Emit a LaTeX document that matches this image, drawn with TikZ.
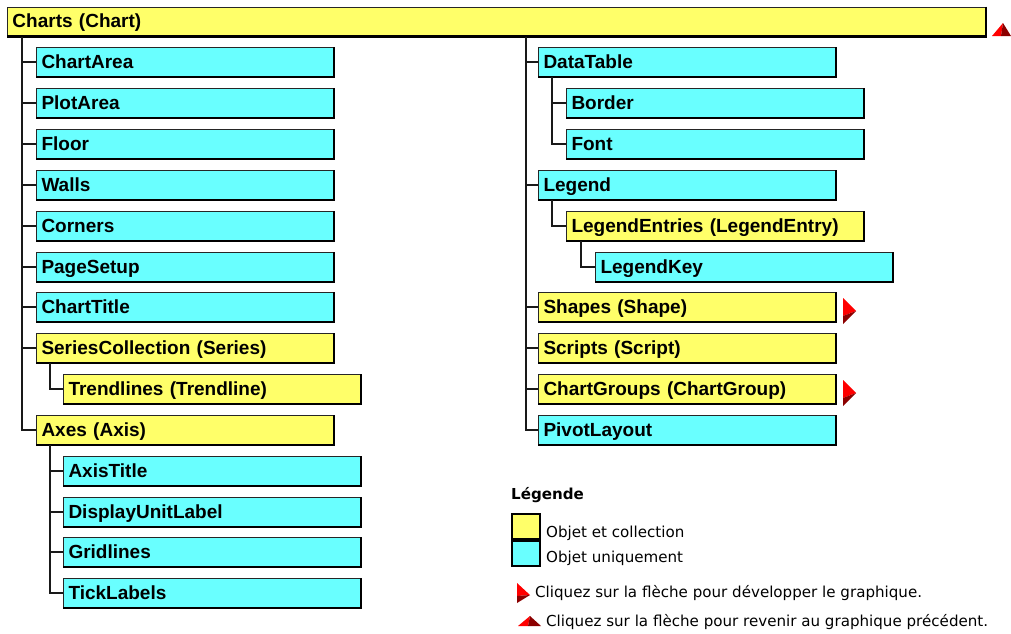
\documentclass[tikz,border=0pt]{standalone}
\usepackage{fontspec}
\setmainfont{Liberation Sans}
\newfontfamily\legfont{DejaVu Sans}
\usetikzlibrary{calc}
\definecolor{objY}{RGB}{255,255,105}
\definecolor{objC}{RGB}{105,255,255}
\definecolor{arrR}{RGB}{255,0,0}
\definecolor{arrD}{RGB}{140,0,0}
\tikzset{
  box/.style={draw=black!85, line width=1pt, minimum height=29pt, inner ysep=0pt, inner xsep=5pt,
    text height=14pt, text depth=2pt, anchor=west, align=left,
    font=\fontsize{19}{19}\selectfont\bfseries, text width=287pt},
  ybox/.style={box, fill=objY},
  cbox/.style={box, fill=objC},
  shade/.style={line width=2.6pt, black},
  conn/.style={line width=1.4pt, black!90},
  legtext/.style={anchor=west, inner sep=0pt, font=\legfont\fontsize{15.1}{16}\selectfont},
}
\begin{document}
\begin{tikzpicture}[x=1pt,y=-1pt]
\useasboundingbox (0,0) rectangle (1011,633);
% root
\node[ybox, text width=968pt] (root) at (7,21.5) {Charts (Chart)};
% left column
\node[cbox] (ca) at (36,62) {ChartArea};
\node[cbox] (pa) at (36,103) {PlotArea};
\node[cbox] (fl) at (36,144) {Floor};
\node[cbox] (wa) at (36,185) {Walls};
\node[cbox] (co) at (36,226) {Corners};
\node[cbox] (ps) at (36,267) {PageSetup};
\node[cbox] (ct) at (36,307) {ChartTitle};
\node[ybox] (sc) at (36,348) {SeriesCollection (Series)};
\node[ybox] (tl) at (63,389) {Trendlines (Trendline)};
\node[ybox] (ax) at (36,430) {Axes (Axis)};
\node[cbox] (at) at (63,471) {AxisTitle};
\node[cbox] (du) at (63,512) {DisplayUnitLabel};
\node[cbox] (gl) at (63,552) {Gridlines};
\node[cbox] (tk) at (63,593) {TickLabels};
% right column
\node[cbox] (dt) at (538,62) {DataTable};
\node[cbox] (bo) at (566,103) {Border};
\node[cbox] (fo) at (566,144) {Font};
\node[cbox] (lg) at (538,185) {Legend};
\node[ybox] (le) at (566,226) {LegendEntries (LegendEntry)};
\node[cbox] (lk) at (595,267) {LegendKey};
\node[ybox] (sh) at (538,307) {Shapes (Shape)};
\node[ybox] (sr) at (538,348) {Scripts (Script)};
\node[ybox] (cg) at (538,389) {ChartGroups (ChartGroup)};
\node[cbox] (pl) at (538,430) {PivotLayout};
% shadows
\foreach \n in {root,ca,pa,fl,wa,co,ps,ct,sc,tl,ax,at,du,gl,tk,dt,bo,fo,lg,le,lk,sh,sr,cg,pl}
  \draw[shade] (\n.north east) -- (\n.south east) -- (\n.south west);
% connectors
\foreach \n in {ca,pa,fl,wa,co,ps,ct,sc,ax}
  \draw[conn] ([xshift=15pt]root.south west) |- (\n.west);
\foreach \n in {dt,lg,sh,sr,cg,pl}
  \draw[conn] ([xshift=519pt]root.south west) |- (\n.west);
\draw[conn] ([xshift=14pt]sc.south west) |- (tl.west);
\foreach \n in {at,du,gl,tk}
  \draw[conn] ([xshift=14pt]ax.south west) |- (\n.west);
\foreach \n in {bo,fo}
  \draw[conn] ([xshift=14pt]dt.south west) |- (\n.west);
\draw[conn] ([xshift=14pt]lg.south west) |- (le.west);
\draw[conn] ([xshift=15pt]le.south west) |- (lk.west);
% expand arrows
\foreach \yy in {298,380}{
  \fill[arrR] (843,\yy) -- (856,\yy+13) -- (843,\yy+18) -- cycle;
  \fill[arrD] (843,\yy+18) -- (856,\yy+13) -- (843,\yy+26) -- cycle;
}
% back arrow at root
\fill[arrR] (992,36) -- (1003,23) -- (1001,36) -- cycle;
\fill[arrD] (1001,36) -- (1003,23) -- (1011,36) -- cycle;
% legend
\node[anchor=west, inner sep=0pt, font=\legfont\bfseries\fontsize{15.1}{16}\selectfont] (lt) at (511,495) {Légende};
\draw[line width=2pt, fill=objY] (512,514) rectangle (540,539);
\draw[line width=2pt, fill=objC] (512,541) rectangle (540,566);
\node[legtext] (l1) at (546,533) {Objet et collection};
\node[legtext] (l2) at (546,558) {Objet uniquement};
\fill[arrR] (517,583) -- (530,595) -- (517,596) -- cycle;
\fill[arrD] (517,596) -- (530,595) -- (517,603) -- cycle;
\node[legtext] (l3) at (535,593) {Cliquez sur la flèche pour développer le graphique.};
\fill[arrR] (518,626) -- (530,616) -- (528,626) -- cycle;
\fill[arrD] (528,626) -- (530,616) -- (541,626) -- cycle;
\node[legtext] (l4) at (546,622) {Cliquez sur la flèche pour revenir au graphique précédent.};
\end{tikzpicture}
\end{document}
